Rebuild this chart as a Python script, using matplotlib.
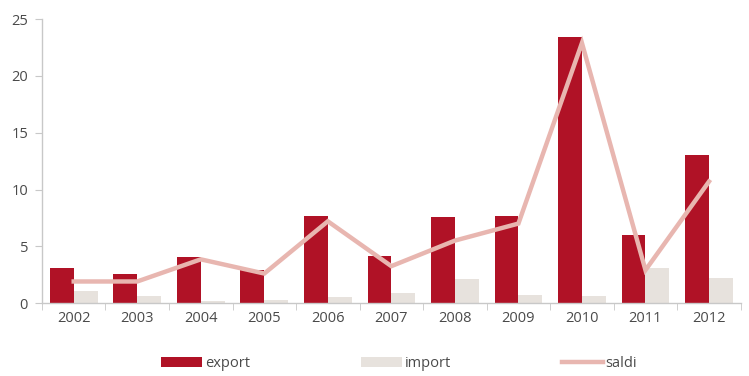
import matplotlib
matplotlib.use("Agg")
import matplotlib.pyplot as plt
import numpy as np
from matplotlib.ticker import FixedLocator

years = ["2002", "2003", "2004", "2005", "2006", "2007", "2008", "2009", "2010", "2011", "2012"]
export = [3.1, 2.6, 4.05, 2.9, 7.7, 4.1, 7.6, 7.7, 23.4, 6.0, 13.0]
imports = [1.1, 0.6, 0.2, 0.3, 0.5, 0.85, 2.1, 0.7, 0.6, 3.1, 2.2]
saldi = [1.9, 1.9, 3.85, 2.6, 7.2, 3.25, 5.5, 7.0, 22.9, 2.9, 10.7]
yticks = [0, 5, 10, 15, 20, 25]

plt.rcParams['font.family'] = ['Open Sans', 'DejaVu Sans']
text_color = '#4a4a4a'
axis_color = '#c8c8c8'

fig = plt.figure(figsize=(7.49, 3.76), dpi=100)
ax = fig.add_axes([0.056, 0.194, 0.933, 0.755])

x = np.arange(len(years))
w = 0.375
b1 = ax.bar(x - w / 2, export, width=w, color='#b01226', label='export', zorder=2)
b2 = ax.bar(x + w / 2, imports, width=w, color='#e7e2dd', label='import', zorder=2)
l1, = ax.plot(x, saldi, color='#e8b6b0', lw=3.2, label='saldi', zorder=3, solid_joinstyle='miter')

ax.set_xlim(-0.5, len(years) - 0.5)
ax.set_ylim(0, 25)
ax.set_yticks(yticks)
ax.set_xticks(x)
ax.set_xticklabels(years)
ax.xaxis.set_minor_locator(FixedLocator(np.arange(-0.5, len(years), 1.0)))

for s in ['top', 'right']:
    ax.spines[s].set_visible(False)
for s in ['left', 'bottom']:
    ax.spines[s].set_color(axis_color)
    ax.spines[s].set_linewidth(1.0)

ax.tick_params(axis='x', which='major', length=0, pad=6, labelsize=10.5, labelcolor=text_color)
ax.tick_params(axis='x', which='minor', length=5, color=axis_color, direction='out')
ax.tick_params(axis='y', which='major', length=5, color=axis_color, pad=5, labelsize=10.5, labelcolor=text_color)

leg = fig.legend([b1, b2, l1], ['export', 'import', 'saldi'],
                 loc='center', bbox_to_anchor=(0.533, 0.033), ncol=3, frameon=False,
                 fontsize=10.5, handlelength=2.8, handletextpad=0.2, columnspacing=7.6,
                 labelcolor=text_color)

fig.savefig('out.png', dpi=100)
